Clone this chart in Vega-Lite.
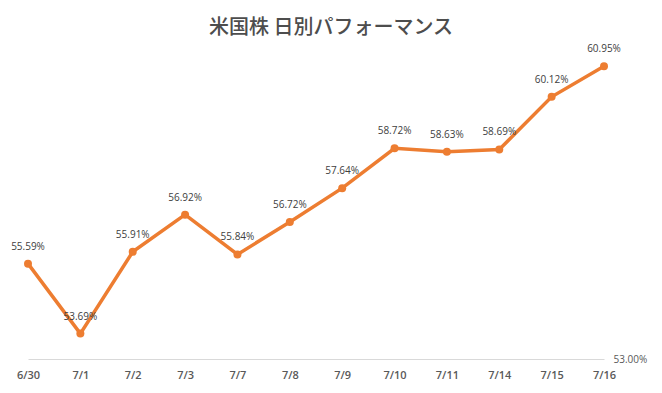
{
  "$schema": "https://vega.github.io/schema/vega-lite/v6.json",
  "autosize": "none",
  "width": 576,
  "height": 313,
  "padding": {"left": 28, "top": 46, "right": 58, "bottom": 34},
  "background": "white",
  "title": {
    "text": "米国株 日別パフォーマンス",
    "font": "Noto Sans CJK JP",
    "fontSize": 20,
    "fontWeight": 500,
    "color": "#4d4d4d",
    "anchor": "middle",
    "dx": 15,
    "offset": 6
  },
  "config": {
    "view": {"stroke": null},
    "font": "Open Sans"
  },
  "data": {
    "values": [
      {"date": "6/30", "value": 55.59},
      {"date": "7/1", "value": 53.69},
      {"date": "7/2", "value": 55.91},
      {"date": "7/3", "value": 56.92},
      {"date": "7/7", "value": 55.84},
      {"date": "7/8", "value": 56.72},
      {"date": "7/9", "value": 57.64},
      {"date": "7/10", "value": 58.72},
      {"date": "7/11", "value": 58.63},
      {"date": "7/14", "value": 58.69},
      {"date": "7/15", "value": 60.12},
      {"date": "7/16", "value": 60.95}
    ]
  },
  "transform": [
    {"calculate": "format(datum.value, '.2f') + '%'", "as": "label"}
  ],
  "encoding": {
    "x": {
      "field": "date",
      "type": "ordinal",
      "sort": null,
      "scale": {"type": "point", "padding": 0},
      "axis": {
        "title": null,
        "labelAngle": 0,
        "ticks": false,
        "domainColor": "#d9d9d9",
        "domainWidth": 1,
        "labelPadding": 10,
        "labelFontSize": 11,
        "labelFontWeight": 600,
        "labelColor": "#595959",
        "labelFont": "Open Sans"
      }
    },
    "y": {
      "field": "value",
      "type": "quantitative",
      "scale": {"domain": [53, 61.5], "zero": false, "nice": false},
      "axis": {
        "orient": "right",
        "title": null,
        "values": [53],
        "labelExpr": "format(datum.value, '.2f') + '%'",
        "grid": false,
        "domain": false,
        "ticks": false,
        "labelPadding": 9,
        "labelFontSize": 10,
        "labelColor": "#595959"
      }
    }
  },
  "layer": [
    {
      "mark": {"type": "line", "color": "#ED7D31", "strokeWidth": 3.5}
    },
    {
      "mark": {"type": "point", "filled": true, "color": "#ED7D31", "size": 64, "opacity": 1}
    },
    {
      "mark": {"type": "text", "dy": -17, "fontSize": 10, "color": "#404040"},
      "encoding": {
        "text": {"field": "label", "type": "nominal"}
      }
    }
  ]
}
